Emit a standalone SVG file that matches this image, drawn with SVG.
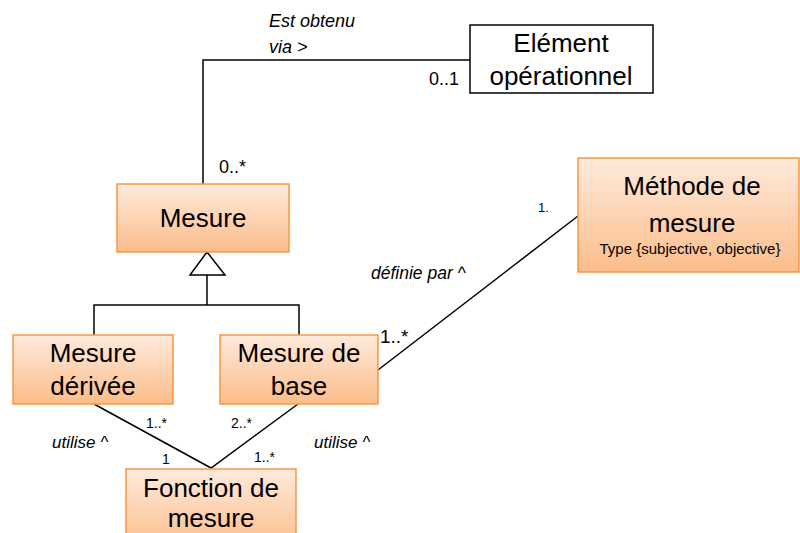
<svg xmlns="http://www.w3.org/2000/svg" width="800" height="533" viewBox="0 0 800 533">
<defs>
<linearGradient id="og" x1="0" y1="0" x2="0" y2="1">
<stop offset="0" stop-color="#FFEADC"/>
<stop offset="1" stop-color="#FBBD8A"/>
</linearGradient>
<style>
.box{fill:url(#og);stroke:#F79646;stroke-width:1.5}
.wbox{fill:#fff;stroke:#000;stroke-width:1.5}
.ln{fill:none;stroke:#000;stroke-width:1.5}
text{font-family:"Liberation Sans",Arial,sans-serif;fill:#000}
.nt{font-size:26px;text-anchor:middle}
.it{font-style:italic}
</style>
</defs>
<rect width="800" height="533" fill="#fff"/>
<g id="connectors">
<polyline class="ln" points="203,184 203,60 470,60"/>
<polygon class="ln" points="207,252 190,275 225,275" fill="#fff"/>
<polyline class="ln" points="207,275 207,305"/>
<polyline class="ln" points="94,335 94,305 299,305 299,335"/>
<line class="ln" x1="378" y1="370" x2="578" y2="216"/>
<polyline class="ln" points="94,404 211,468 298,404"/>
<text x="269" y="27" class="it" font-size="18">Est obtenu</text>
<text x="269" y="53" class="it" font-size="18">via &gt;</text>
<text x="429" y="85" font-size="18">0..1</text>
<text x="219" y="173" font-size="18">0..*</text>
<text x="538" y="212" font-size="13">1.</text>
<text x="371" y="279" class="it" font-size="17.5">définie par ^</text>
<text x="380" y="343" font-size="19">1..*</text>
<text x="146" y="428" font-size="14">1..*</text>
<text x="231" y="428" font-size="14">2..*</text>
<text x="52" y="448" class="it" font-size="17">utilise ^</text>
<text x="314" y="448" class="it" font-size="17">utilise ^</text>
<text x="162" y="464" font-size="14">1</text>
<text x="254" y="462" font-size="14">1..*</text>
</g>
<g id="element-operationnel">
<rect class="wbox" x="470" y="25" width="183" height="68"/>
<text class="nt" x="561" y="52">Elément</text>
<text class="nt" x="561" y="85">opérationnel</text>
</g>
<g id="mesure">
<rect class="box" x="117" y="184" width="172" height="68"/>
<text class="nt" x="203" y="227">Mesure</text>
</g>
<g id="methode-de-mesure">
<rect class="box" x="578" y="158" width="221" height="114"/>
<text class="nt" x="692" y="195">Méthode de</text>
<text class="nt" x="692" y="232">mesure</text>
<text x="690" y="254" font-size="15" text-anchor="middle">Type {subjective, objective}</text>
</g>
<g id="mesure-derivee">
<rect class="box" x="13" y="335" width="160" height="69"/>
<text class="nt" x="93" y="362">Mesure</text>
<text class="nt" x="93" y="395">dérivée</text>
</g>
<g id="mesure-de-base">
<rect class="box" x="220" y="335" width="158" height="69"/>
<text class="nt" x="299" y="362">Mesure de</text>
<text class="nt" x="299" y="395">base</text>
</g>
<g id="fonction-de-mesure">
<rect class="box" x="126" y="469" width="170" height="80"/>
<text class="nt" x="211" y="497">Fonction de</text>
<text class="nt" x="211" y="527">mesure</text>
</g>
</svg>
